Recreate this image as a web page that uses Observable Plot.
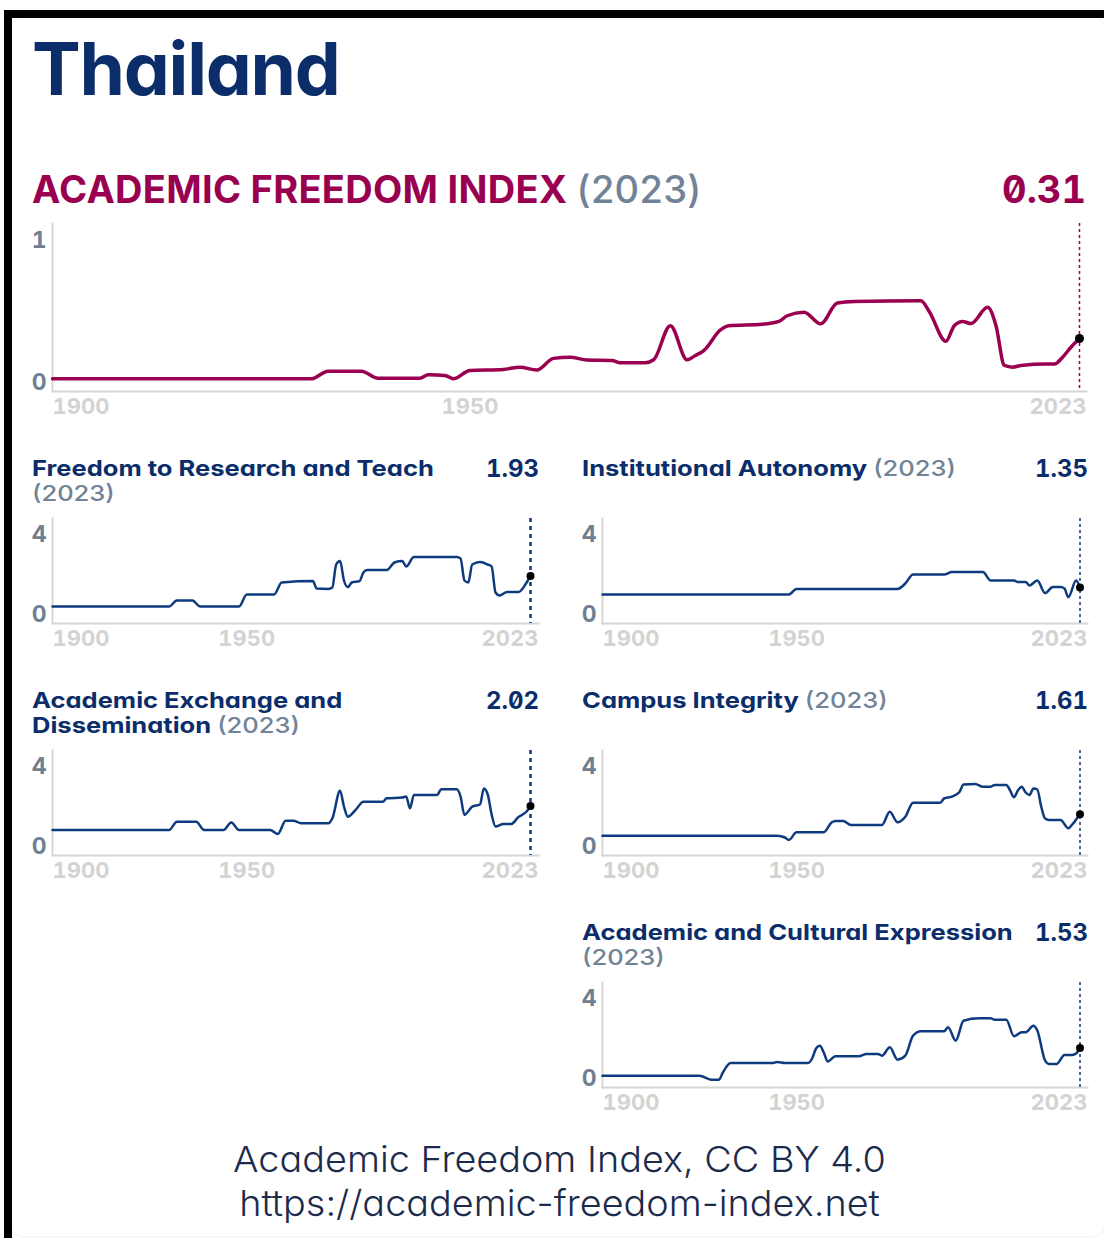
<!DOCTYPE html>
<html>
<head>
<meta charset="utf-8">
<script src="https://cdn.jsdelivr.net/npm/d3@7"></script>
<script src="https://cdn.jsdelivr.net/npm/@observablehq/plot@0.6"></script>
<style>
  html, body { margin: 0; padding: 0; background: #fff; }
  body { width: 1104px; height: 1238px; position: relative; overflow: hidden; font-family: Inter, "Noto Sans", sans-serif; font-feature-settings: "cv11" 1; }
  #frame { position: absolute; left: 4px; top: 10px; width: 1100px; height: 1228px; border-left: 8px solid #000; border-top: 8px solid #000; box-sizing: border-box; }
  #card { position: absolute; left: 12px; top: 18px; width: 1092px; height: 1218px; background: #fff; border-radius: 10px; box-shadow: 0 0 3px rgba(0,0,0,0.12); }
  .abs { position: absolute; white-space: nowrap; }
  .title { left: 32px; top: 32px; font-size: 73px; line-height: 73px; font-weight: 700; color: #0b2e6b; letter-spacing: -1.2px; }
  .afi { left: 32px; top: 170px; font-size: 38px; line-height: 38px; font-weight: 700; color: #9a0050; letter-spacing: 0.3px; }
  .yr { color: #718397; font-weight: 500; }
  .val { font-feature-settings: "zero" 1, "tnum" 1, "cv11" 1; }
  .afival { right: 18px; top: 170px; font-size: 38px; line-height: 38px; font-weight: 700; color: #9a0050; }
  .sub { font-size: 22px; line-height: 27px; height: 27px; font-weight: 700; color: #0b2e6b; transform: scaleX(1.16); transform-origin: 0 0; }
  .subval { font-size: 24px; line-height: 27px; font-weight: 700; color: #0b2e6b; text-align: right; }
  .foot { left: 0; width: 1119px; text-align: center; font-size: 36px; line-height: 44px; height: 44px; font-weight: 300; color: #1c2b4c; transform: scaleX(1.05); transform-origin: 559.5px 0; }
  svg.chart { position: absolute; overflow: visible; }
</style>
</head>
<body>
<div id="frame"></div>
<div id="card"></div>
<div id="root"></div>
<script>
// ---------- data ----------
const countryName = "Thailand";
const latestYear = 2023;
const xTickYears = [1900, 1950, 2023];

const afiYears  = [1900,1931,1933,1937,1939,1944,1945,1947,1948,1950,1954,1956,1958,1960,1962,1964,1967,1968,1971,1972,1974,1976,1977,1978,1980,1981,1985,1987,1988,1990,1992,1994,1996,2004,2005,2007,2008,2009,2010,2012,2013,2014,2015,2016,2019,2020,2021,2022,2023];
const afiValues = [0.026,0.026,0.08,0.08,0.03,0.03,0.054,0.05,0.026,0.085,0.092,0.108,0.088,0.17,0.178,0.158,0.155,0.139,0.139,0.16,0.40,0.16,0.19,0.225,0.37,0.40,0.41,0.43,0.47,0.495,0.413,0.56,0.57,0.575,0.50,0.29,0.40,0.43,0.415,0.53,0.40,0.12,0.108,0.12,0.13,0.13,0.18,0.25,0.31];

const frtYears  = [1900,1930,1932,1936,1938,1948,1950,1957,1959,1967,1968,1971,1972,1973,1974,1975,1976,1977,1979,1980,1981,1986,1988,1990,1991,1993,2004,2005,2006,2007,2008,2010,2012,2013,2014,2015,2017,2020,2021,2022,2023];
const frtValues = [0.4,0.4,0.7,0.7,0.4,0.4,1.0,1.0,1.6,1.67,1.3,1.28,1.35,2.5,2.67,1.7,1.37,1.6,1.67,2.1,2.23,2.23,2.6,2.67,2.4,2.87,2.87,2.8,1.7,1.6,2.5,2.62,2.5,2.4,1.1,0.95,1.12,1.12,1.3,1.6,1.93];

const iaYears  = [1900,1948,1950,1976,1978,1980,1988,1990,1998,2000,2006,2007,2009,2010,2012,2014,2016,2018,2019,2020,2022,2023];
const iaValues = [1.0,1.0,1.28,1.28,1.55,2.0,2.0,2.12,2.12,1.7,1.7,1.62,1.62,1.45,1.7,1.07,1.37,1.37,1.3,0.87,1.7,1.35];

const aedYears  = [1900,1930,1932,1937,1939,1944,1946,1948,1956,1958,1960,1962,1964,1971,1972,1974,1975,1976,1978,1980,1985,1986,1990,1991,1992,1993,1999,2000,2004,2005,2006,2008,2010,2011,2012,2013,2014,2016,2018,2020,2021,2022,2023];
const aedValues = [0.83,0.83,1.24,1.24,0.83,0.83,1.2,0.83,0.83,0.63,1.29,1.29,1.16,1.16,1.4,2.79,2.0,1.49,1.83,2.24,2.24,2.41,2.45,2.5,1.91,2.58,2.58,2.86,2.86,2.5,1.58,1.99,2.1,2.9,2.6,1.6,1.0,1.12,1.12,1.49,1.6,1.75,2.02];

const ciYears  = [1900,1945,1947,1948,1950,1957,1959,1960,1962,1964,1972,1974,1976,1978,1980,1987,1988,1990,1992,1993,1996,1998,2000,2001,2004,2005,2006,2007,2008,2009,2010,2011,2012,2013,2014,2015,2018,2020,2021,2022,2023];
const ciValues = [0.54,0.54,0.45,0.33,0.71,0.71,1.2,1.28,1.28,1.08,1.08,1.74,1.21,1.49,2.19,2.19,2.4,2.49,2.74,3.1,3.13,2.99,2.99,3.08,3.08,2.8,2.46,2.8,2.99,2.7,2.58,2.9,2.85,2.0,1.4,1.33,1.33,0.91,1.1,1.35,1.61];

const aceYears  = [1900,1925,1928,1930,1931,1933,1944,1945,1947,1953,1954,1955,1956,1957,1958,1960,1966,1968,1971,1972,1974,1976,1978,1980,1982,1988,1989,1991,1993,1997,2000,2001,2004,2006,2008,2009,2011,2012,2014,2015,2017,2019,2021,2022,2023];
const aceValues = [0.14,0.14,-0.06,-0.06,0.3,0.78,0.78,0.83,0.78,0.78,1.0,1.5,1.64,1.3,0.85,1.11,1.11,1.23,1.23,1.14,1.56,0.94,1.14,2.14,2.36,2.36,2.56,1.89,2.89,3.01,3.01,2.94,2.94,2.11,2.31,2.31,2.64,2.4,0.9,0.73,0.73,1.18,1.18,1.25,1.53];

const indicatorNames = ["Freedom to Research and Teach", "Institutional Autonomy", "Academic Exchange and Dissemination", "Campus Integrity", "Academic and Cultural Expression"];
const indicatorLatest = ["1.93", "1.35", "2.02", "1.61", "1.53"];
const afiLatest = "0.31";
const footerLines = ["Academic Freedom Index, CC BY 4.0", "https://academic-freedom-index.net"];

// ---------- layout ----------
const root = document.getElementById("root");
function addDiv(cls, html, style) {
  const d = document.createElement("div");
  d.className = "abs " + cls;
  d.innerHTML = html;
  Object.assign(d.style, style || {});
  root.appendChild(d);
  return d;
}

addDiv("title", countryName);
addDiv("afi", `ACADEMIC FREEDOM INDEX <span class="yr">(${latestYear})</span>`);
addDiv("afival val", afiLatest);

const NAVY = "#0e3a7e";
const MAGENTA = "#9a0050";

function toRows(years, values) { return years.map((y, i) => ({year: y, value: values[i]})); }

function chart({rows, color, domain, ticks, width, height, marginLeft, marginRight, insetRight, insetTop, insetBottom, marginTop, marginBottom, lineWidth, ruleWidth, dash, r, left, top}) {
  const last = rows.filter(d => d.year === latestYear);
  const axisText = {label: null, fontSize: 22, fontWeight: 700, fill: "#d3d3d3", tickSize: 0, tickPadding: 7, tickFormat: "d"};
  const svg = Plot.plot({
    width, height, marginLeft, marginRight, marginTop, marginBottom,
    x: {domain: [1900, latestYear], insetRight, label: null},
    y: {domain, insetTop, insetBottom, label: null},
    style: {fontFamily: "Inter, 'Noto Sans', sans-serif", fontWeight: 700, background: "transparent", overflow: "visible"},
    marks: [
      Plot.frame({anchor: "left", stroke: "#d6d6d6", strokeWidth: 2}),
      Plot.frame({anchor: "bottom", stroke: "#d6d6d6", strokeWidth: 2}),
      Plot.axisY({label: null, ticks, tickSize: 0, tickPadding: 6, fontSize: 23, fontWeight: 700, fill: "#6f8093", tickFormat: "d"}),
      Plot.axisX({...axisText, ticks: [xTickYears[0]], textAnchor: "start"}),
      Plot.axisX({...axisText, ticks: [xTickYears[1]], textAnchor: "middle"}),
      Plot.axisX({...axisText, ticks: [xTickYears[2]], textAnchor: "end", dx: insetRight}),
      Plot.ruleX([latestYear], {stroke: color, strokeWidth: ruleWidth, strokeDasharray: dash}),
      Plot.line(rows, {x: "year", y: "value", stroke: color, strokeWidth: lineWidth, curve: "monotone-x"}),
      Plot.dot(last, {x: "year", y: "value", r, fill: "#000"})
    ]
  });
  svg.classList.add("chart");
  svg.style.left = left + "px";
  svg.style.top = top + "px";
  root.appendChild(svg);
}

// main AFI chart
chart({
  rows: toRows(afiYears, afiValues), color: MAGENTA, domain: [0, 1], ticks: [0, 1],
  width: 1104, height: 208, marginLeft: 52, marginRight: 18, insetRight: 7,
  marginTop: 10, marginBottom: 30, insetTop: 17, insetBottom: 9,
  lineWidth: 3.5, ruleWidth: 1.5, dash: "3,3", r: 4.5, left: 0, top: 213
});

// small multiples
const seriesList = [
  toRows(frtYears, frtValues), toRows(iaYears, iaValues), toRows(aedYears, aedValues),
  toRows(ciYears, ciValues), toRows(aceYears, aceValues)
];
const yr = `<span class="yr">(${latestYear})</span>`;
const cells = [
  {col: 0, row: 0, lines: [indicatorNames[0], yr]},
  {col: 1, row: 0, lines: [`${indicatorNames[1]} ${yr}`]},
  {col: 0, row: 1, lines: ["Academic Exchange and", `Dissemination ${yr}`]},
  {col: 1, row: 1, lines: [`${indicatorNames[3]} ${yr}`]},
  {col: 1, row: 2, lines: [indicatorNames[4], yr]}
];
const frameTops = [518, 750, 982];
const titleTops = [454.5, 686.5, 918.5];

cells.forEach((c, i) => {
  const left = c.col === 0 ? 0 : 550;
  const titleX = c.col === 0 ? 32 : 582;
  const valRight = c.col === 0 ? 1104 - 539 : 1104 - 1088;
  c.lines.forEach((ln, k) => {
    addDiv("sub", ln, {left: titleX + "px", top: (titleTops[c.row] + k * 25) + "px"});
  });
  addDiv("subval val", indicatorLatest[i], {right: valRight + "px", top: titleTops[c.row] + "px"});
  const width = c.col === 0 ? 560 : 554;
  const marginRight = c.col === 0 ? 22 : 17;
  const insetRight = c.col === 0 ? 8 : 7.5;
  chart({
    rows: seriesList[i], color: NAVY, domain: [0, 4], ticks: [0, 4],
    width, height: 147, marginLeft: 52, marginRight, insetRight,
    marginTop: 10, marginBottom: 32, insetTop: 16, insetBottom: 9,
    lineWidth: 2.5, ruleWidth: c.col === 0 ? 2.5 : 1.5, dash: c.col === 0 ? "4,4" : "3,3", r: 4,
    left, top: frameTops[c.row] - 10
  });
});

addDiv("foot", footerLines[0], {top: "1137px"});
addDiv("foot", footerLines[1], {top: "1181px"});
</script>
</body>
</html>
